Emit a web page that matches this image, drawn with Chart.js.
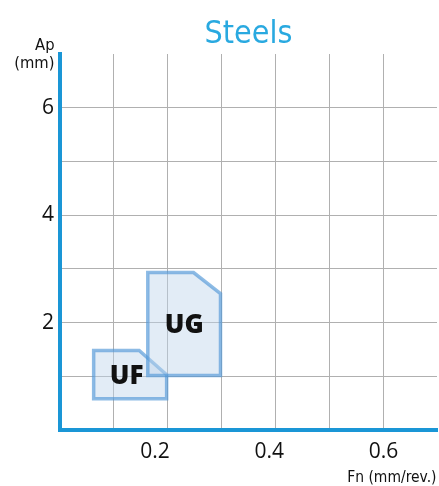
<!DOCTYPE html>
<html>
<head>
<meta charset="utf-8">
<script src="https://cdn.jsdelivr.net/npm/chart.js@4"></script>
<style>
html,body{margin:0;padding:0;background:#fff;}
#wrap{width:439px;height:486px;}
</style>
</head>
<body>
<div id="wrap"><canvas id="c" width="439" height="486"></canvas></div>
<script>
// ---------------- data ----------------
const regionNames = ['UG', 'UF'];
// UG region outline (Fn mm/rev, Ap mm)
const ugFn = [0.163, 0.163, 0.248, 0.298, 0.298, 0.163];
const ugAp = [1.015, 2.93, 2.93, 2.54, 1.015, 1.015];
// UF region outline
const ufFn = [0.0625, 0.0625, 0.147, 0.198, 0.198, 0.0625];
const ufAp = [0.58, 1.48, 1.48, 1.03, 0.58, 0.58];
// label anchor positions
const labelFn = [0.2306, 0.1237];
const labelAp = [1.957, 1.015];
// axes
const xGridValues = [0.1, 0.2, 0.3, 0.4, 0.5, 0.6];
const xTickValues = [0.2, 0.4, 0.6];
const xTickLabels = ['0.2', '0.4', '0.6'];
const yTickValues = [1, 2, 3, 4, 5, 6];
const yTickLabels = ['', '2', '', '4', '', '6'];
const titleText = 'Steels';
const yTitle = ['Ap', '(mm)'];
const xTitle = 'Fn (mm/rev.)';

// ---------------- fonts ----------------
const mctx = document.createElement('canvas').getContext('2d');
function available(name){
  const s = 'abcdefghijklmnopqrstuvwxyz0123456789ABCDEFG';
  for (const base of ['monospace','serif']) {
    mctx.font = '40px ' + base; const w1 = mctx.measureText(s).width;
    mctx.font = '40px "' + name + '", ' + base; const w2 = mctx.measureText(s).width;
    if (Math.abs(w1 - w2) > 0.01) return true;
  }
  return false;
}
const NARROW = ['Liberation Sans Narrow','DejaVu Sans Condensed','Roboto Condensed','Lato'].find(available) || 'Lato';
function sizeFor(text, family, weight, targetInk){
  mctx.font = weight + ' 100px "' + family + '"';
  const m = mctx.measureText(text);
  const ink = m.actualBoundingBoxRight + m.actualBoundingBoxLeft;
  return 100 * targetInk / ink;
}
const titleSize = sizeFor(titleText, NARROW, 'normal', 85);
const xTitleSize = sizeFor(xTitle, NARROW, 'normal', 87);
const yTitleSize = sizeFor(yTitle[1], NARROW, 'normal', 38);

const AXIS_BLUE = '#1a96d6';

const textPlugin = {
  id: 'texts',
  afterDatasetsDraw(chart){
    const {ctx, scales} = chart;
    ctx.save();
    // region labels
    ctx.fillStyle = '#111';
    ctx.font = '800 26px "Open Sans", sans-serif';
    ctx.textAlign = 'center';
    ctx.textBaseline = 'middle';
    regionNames.forEach((n, i) => {
      ctx.fillText(n, scales.x.getPixelForValue(labelFn[i]), scales.y.getPixelForValue(labelAp[i]) + 1);
    });
    // axis titles
    ctx.textBaseline = 'alphabetic';
    ctx.textAlign = 'right';
    ctx.font = yTitleSize.toFixed(2) + 'px "' + NARROW + '"';
    ctx.fillText(yTitle[0], 54.5, 50);
    ctx.fillText(yTitle[1], 54.5, 68);
    ctx.font = xTitleSize.toFixed(2) + 'px "' + NARROW + '"';
    ctx.fillText(xTitle, 436.5, 482);
    ctx.restore();
  }
};

const fillCol = 'rgba(190,212,236,0.45)';
const lineCol = 'rgba(80,150,215,0.65)';

new Chart(document.getElementById('c'), {
  type: 'scatter',
  data: {
    datasets: [
      {
        label: regionNames[0],
        data: ugFn.map((v, i) => ({x: v, y: ugAp[i]})),
        showLine: true, fill: 'shape', tension: 0,
        backgroundColor: fillCol, borderColor: lineCol, borderWidth: 3.5,
        borderJoinStyle: 'miter', borderCapStyle: 'square',
        pointRadius: 0, pointHoverRadius: 0
      },
      {
        label: regionNames[1],
        data: ufFn.map((v, i) => ({x: v, y: ufAp[i]})),
        showLine: true, fill: 'shape', tension: 0,
        backgroundColor: fillCol, borderColor: lineCol, borderWidth: 3.5,
        borderJoinStyle: 'miter', borderCapStyle: 'square',
        pointRadius: 0, pointHoverRadius: 0
      }
    ]
  },
  options: {
    responsive: false,
    animation: false,
    events: [],
    layout: {padding: {left: 0, right: 2, top: 0, bottom: 0}},
    plugins: {
      legend: {display: false},
      tooltip: {enabled: false},
      title: {
        display: true, text: titleText, color: '#29a9e0', fullSize: false,
        font: {family: '"' + NARROW + '"', size: titleSize, weight: 'normal', lineHeight: 1.2},
        padding: {top: 54 - titleSize * 1.2, bottom: 0}
      }
    },
    scales: {
      x: {
        type: 'linear', position: 'bottom', weight: 0, min: 0, max: 0.7,
        afterBuildTicks: s => { s.ticks = xGridValues.map(v => ({value: v})); },
        ticks: {display: false},
        grid: {color: '#b0b0b0', lineWidth: 1, drawTicks: false},
        border: {display: true, color: AXIS_BLUE, width: 4},
        afterFit: s => { s.height = 0; }
      },
      x2: {
        type: 'linear', position: 'bottom', weight: 1, min: 0.0337, max: 0.6936,
        afterBuildTicks: s => { s.ticks = xTickValues.map(v => ({value: v})); },
        ticks: {
          color: '#111', padding: 9, maxRotation: 0, autoSkip: false,
          font: {family: '"Open Sans"', size: 21},
          callback: (v, i) => xTickLabels[i]
        },
        grid: {display: false, drawTicks: false},
        border: {display: false},
        afterFit: s => { s.height = 56; }
      },
      y: {
        type: 'linear', position: 'left', min: 0, max: 7,
        afterBuildTicks: s => { s.ticks = yTickValues.map(v => ({value: v})); },
        ticks: {
          color: '#111', padding: 6, autoSkip: false,
          font: {family: '"Open Sans"', size: 21},
          callback: (v, i) => yTickLabels[i]
        },
        grid: {color: '#b0b0b0', lineWidth: 1, drawTicks: false},
        border: {display: true, color: AXIS_BLUE, width: 4},
        afterFit: s => { s.width = 60; }
      }
    }
  },
  plugins: [textPlugin]
});
</script>
</body>
</html>
